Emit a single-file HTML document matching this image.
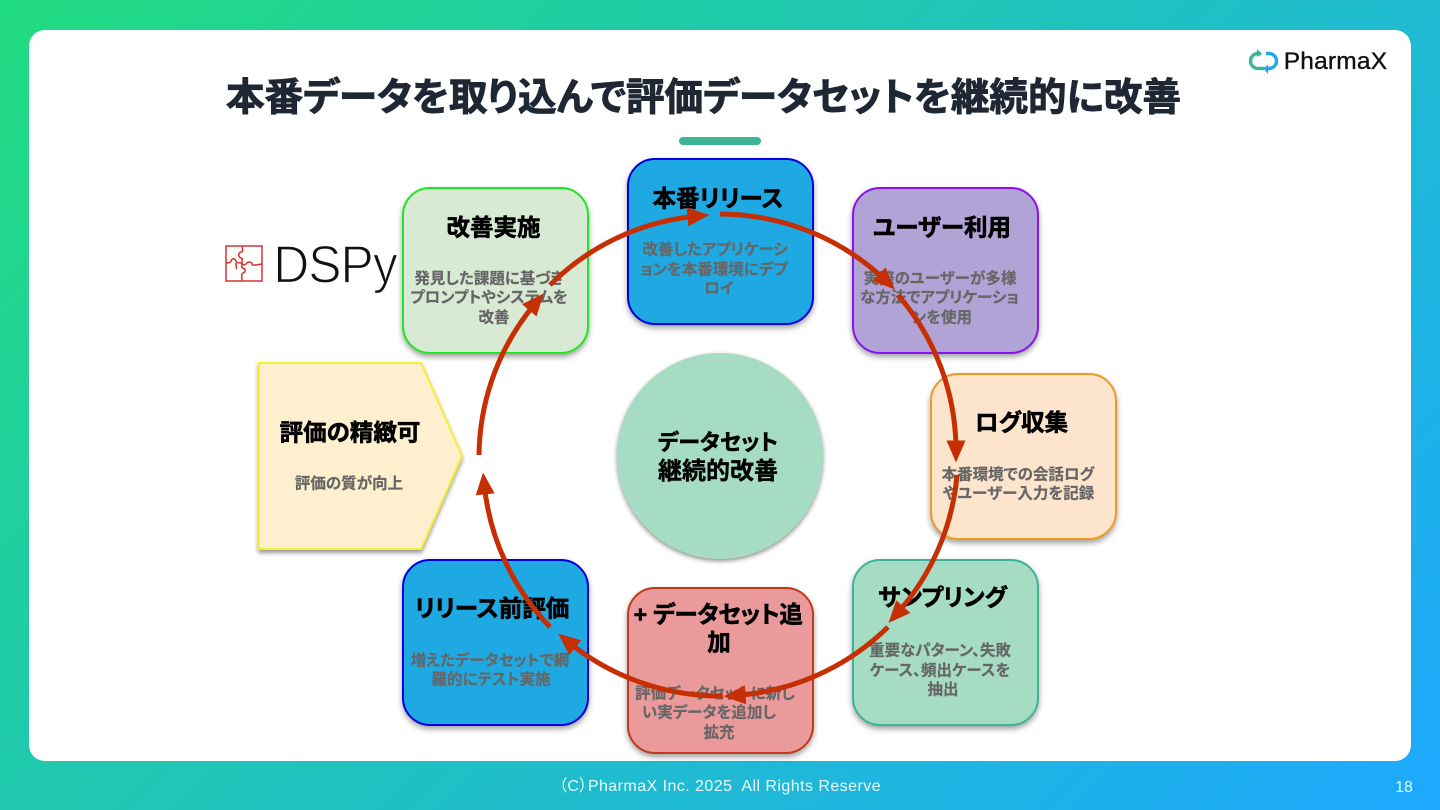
<!DOCTYPE html>
<html lang="ja"><head><meta charset="utf-8">
<style>
html,body{margin:0;padding:0}
#s{position:relative;width:1440px;height:810px;overflow:hidden;background:linear-gradient(135deg,#22dc80 0%,#1fc2c0 50%,#1ea8ff 100%);font-family:"Liberation Sans","Noto Sans CJK JP",sans-serif;font-feature-settings:"palt"}
#p{position:absolute;left:29px;top:30px;width:1382px;height:731px;background:#fff;border-radius:16px}
.c{position:absolute;box-sizing:border-box;width:187px;height:167.500px;border:2px solid;border-radius:28px;box-shadow:0 3px 6px rgba(0,0,0,.38)}
.t{position:absolute;transform:translate(-50%,-50%);white-space:nowrap;line-height:1}
.h{font-size:23.5px;font-weight:700;color:#000;-webkit-text-stroke:.6px #000}
.d{font-size:15.5px;font-weight:700;color:#666;-webkit-text-stroke:.2px #666;margin-top:-1px}
svg{position:absolute;left:0;top:0}
</style></head><body><div id="s">
<div id="p"></div>
<div class="t" style="left:703.500px;top:99px;font-size:38.600px;font-weight:700;color:#1e2733;-webkit-text-stroke:.9px #1e2733">本番データを取り込んで評価データセットを継続的に改善</div>
<div style="position:absolute;left:679px;top:137px;width:82px;height:8px;border-radius:4px;background:#3cb597"></div>

<div class="c" style="left:626.500px;top:157.500px;background:#1fa9e3;border-color:#0000e0"></div>
<div class="c" style="left:851.500px;top:186.500px;background:#b1a3d5;border-color:#8a12ee"></div>
<div class="c" style="left:929.500px;top:372.500px;background:#fce4cd;border-color:#f09a22"></div>
<div class="c" style="left:851.500px;top:558.500px;background:#a6dcc3;border-color:#3cb597"></div>
<div class="c" style="left:626.500px;top:586.500px;background:#ea9a9a;border-color:#c03a1c"></div>
<div class="c" style="left:401.500px;top:558.500px;background:#1fa9e3;border-color:#0000e0"></div>
<div class="c" style="left:401.500px;top:186.500px;background:#d8e9d4;border-color:#22e622"></div>

<svg width="1440" height="810" style="filter:drop-shadow(0 3px 2px rgba(0,0,0,.4))"><polygon points="259,363 421,363 462,456 421,549 259,549" fill="#fef0cf" stroke="#f5f032" stroke-width="2"/></svg>
<div style="position:absolute;left:617px;top:353px;width:206px;height:206px;border-radius:50%;background:#a6dcc3;box-shadow:0 2px 5px rgba(0,0,0,.45)"></div>

<div class="t h" style="left:718px;top:198.500px">本番リリース</div>
<div class="t d" style="left:715px;top:250.500px">改善したアプリケーシ</div>
<div class="t d" style="left:714px;top:270.500px">ョンを本番環境にデプ</div>
<div class="t d" style="left:719px;top:290px">ロイ</div>

<div class="t h" style="left:942px;top:227.500px">ユーザー利用</div>
<div class="t d" style="left:940px;top:280px">実際のユーザーが多様</div>
<div class="t d" style="left:939.500px;top:299px">な方法でアプリケーショ</div>
<div class="t d" style="left:942px;top:319px">ンを使用</div>

<div class="t h" style="left:1021.500px;top:422.500px">ログ収集</div>
<div class="t d" style="left:1018px;top:475.500px">本番環境での会話ログ</div>
<div class="t d" style="left:1018.500px;top:494.500px">やユーザー入力を記録</div>

<div class="t h" style="left:942.500px;top:598px">サンプリング</div>
<div class="t d" style="left:940px;top:652px">重要なパターン、失敗</div>
<div class="t d" style="left:940px;top:672px">ケース、頻出ケースを</div>
<div class="t d" style="left:943px;top:691px">抽出</div>

<div class="t h" style="left:718px;top:614.500px;letter-spacing:-.35px">+ データセット追</div>
<div class="t h" style="left:719px;top:642.500px">加</div>
<div class="t d" style="left:715px;top:695px">評価データセットに新し</div>
<div class="t d" style="left:709px;top:714px">い実データを追加し</div>
<div class="t d" style="left:719px;top:734px">拡充</div>

<div class="t h" style="left:492px;top:608.500px">リリース前評価</div>
<div class="t d" style="left:490px;top:662px">増えたデータセットで網</div>
<div class="t d" style="left:491px;top:681px">羅的にテスト実施</div>

<div class="t h" style="left:493.500px;top:227.500px">改善実施</div>
<div class="t d" style="left:489px;top:280px">発見した課題に基づき</div>
<div class="t d" style="left:489px;top:299px">プロンプトやシステムを</div>
<div class="t d" style="left:494px;top:319px">改善</div>

<div class="t h" style="left:350px;top:433px">評価の精緻可</div>
<div class="t d" style="left:349px;top:485px">評価の質が向上</div>

<div class="t" style="left:718px;top:443px;font-size:22px;font-weight:700;color:#000;-webkit-text-stroke:.5px #000">データセット</div>
<div class="t" style="left:718px;top:472px;font-size:24px;font-weight:700;color:#000;-webkit-text-stroke:.4px #000">継続的改善</div>

<svg width="1440" height="810">
<defs><marker id="a" markerUnits="userSpaceOnUse" markerWidth="30" markerHeight="24" viewBox="-12 -12 30 24" refX="0" refY="0" orient="auto"><polygon points="-10,-9.500 12,0 -10,9.500" fill="#c62f03"/></marker></defs>
<g fill="none" stroke="#c62f03" stroke-width="5">
<path d="M720 214A240.500 240.500 0 0 1 886.200 281.100" marker-end="url(#a)"/>
<path d="M898 295A238 238 0 0 1 956 450.500" marker-end="url(#a)"/>
<path d="M957 475A238 238 0 0 1 896.600 614" marker-end="url(#a)"/>
<path d="M888 627A241 241 0 0 1 735.500 695.500" marker-end="url(#a)"/>
<path d="M723 696A241 241 0 0 1 567.500 641.300" marker-end="url(#a)"/>
<path d="M550 627A240 240 0 0 1 484.200 484.400" marker-end="url(#a)"/>
<path d="M479 455A240 240 0 0 1 535.800 302.700" marker-end="url(#a)"/>
<path d="M550 285A240 240 0 0 1 697.400 216" marker-end="url(#a)"/>
</g>
<!-- puzzle icon -->
<g fill="none" stroke="#d2352e" stroke-width="1.500">
<rect x="226" y="246" width="36" height="35"/>
<path d="M226 263c4 0 5-1 5-2 1-3 4-3 5 0 0 1 0 2 6 2 0-4 1-5-1-5-3-1-3-5 0-6 2 0 2-2 1-6"/>
<path d="M242 263c1 3 3 2 4 1 2-3 6-2 6 0 0 2 3 1 10 0"/>
<path d="M242 263c0 4-1 5 1 5 3 1 3 4 0 5-2 1-1 3-1 8"/>
<path d="M236 263c0 4 1 5 0 6"/>
</g>
<!-- PharmaX logo -->
<g fill="none" stroke-width="3.400">
<path d="M1261 53.500H1258a7.500 7.500 0 0 0 0 15h6" stroke="#3cb597"/>
<path d="M1266 53.500h3a7.500 7.500 0 0 1 0 15h-3" stroke="#22a8e8"/>
</g>
<polygon points="1257,49 1262,54 1257,57" fill="#3cb597"/>
<polygon points="1268,65 1268,74 1263,68" fill="#22a8e8"/>
</svg>
<div class="t" style="left:334.500px;top:265px;font-size:53px;color:#111;transform:translate(-50%,-50%) scaleX(.94);letter-spacing:-1px;-webkit-text-stroke:1.300px #fff">DSPy</div>
<div class="t" style="left:1335.500px;top:62px;font-size:24.500px;color:#111;letter-spacing:.2px;-webkit-text-stroke:.35px #111">PharmaX</div>
<div class="t" style="left:720px;top:787px;font-size:16px;color:#e8fbf8;letter-spacing:.45px;white-space:pre">（C）PharmaX Inc. 2025  All Rights Reserve</div>
<div class="t" style="left:1404px;top:788px;font-size:16px;color:#e8fbf8">18</div>
</div></body></html>
